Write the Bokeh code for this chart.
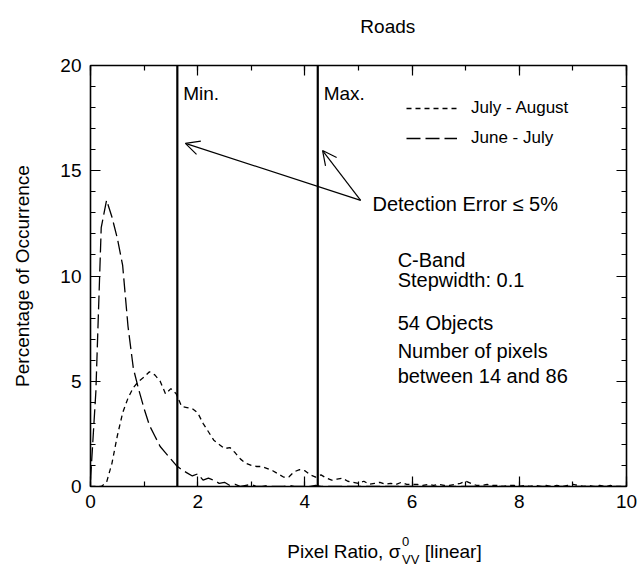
from bokeh.plotting import figure
from bokeh.layouts import column
from bokeh.models import (Span, Label, Arrow, OpenHead, Legend, LegendItem,
                          LinearAxis, SingleIntervalTicker, ColumnDataSource)
from bokeh.core.properties import value
from bokeh.embed import file_html
from bokeh.resources import INLINE

# ---------------- data ----------------
title_text = "Roads"
x_label_main = "Pixel Ratio, \u03c3"
x_label_sup = "0"
x_label_sub = "VV"
x_label_tail = "[linear]"
y_label = "Percentage of Occurrence"

stepwidth = 0.1
pixel_ratio = [round(i * stepwidth, 1) for i in range(101)]

july_august = [
    0.0, 0.0, 0.0, 0.2, 1.1, 2.4, 3.5, 4.2, 4.7, 5.0,      # 0.0 - 0.9
    5.2, 5.45, 5.3, 5.0, 4.4, 4.65, 4.4, 3.8, 3.75, 3.7,   # 1.0 - 1.9
    3.5, 3.0, 2.6, 2.2, 2.0, 1.8, 1.85, 1.6, 1.3, 1.1,     # 2.0 - 2.9
    1.0, 0.95, 0.95, 0.85, 0.75, 0.6, 0.45, 0.45, 0.7, 0.8,  # 3.0 - 3.9
    0.75, 0.55, 0.45, 0.55, 0.4, 0.3, 0.35, 0.4, 0.25, 0.2,  # 4.0 - 4.9
    0.15, 0.25, 0.1, 0.15, 0.2, 0.1, 0.15, 0.1, 0.2, 0.1,  # 5.0 - 5.9
    0.1, 0.1, 0.05, 0.1, 0.05, 0.1, 0.05, 0.05, 0.1, 0.15,  # 6.0 - 6.9
    0.25, 0.15, 0.05, 0.05, 0.1, 0.05, 0.05, 0.0, 0.05, 0.05,  # 7.0 - 7.9
    0.0, 0.05, 0.0, 0.05, 0.0, 0.05, 0.0, 0.05, 0.0, 0.05,  # 8.0 - 8.9
    0.1, 0.05, 0.0, 0.05, 0.0, 0.05, 0.0, 0.05, 0.0, 0.0,  # 9.0 - 9.9
    0.0,                                                   # 10.0
]

june_july = [
    0.3, 4.5, 12.3, 13.6, 12.8, 11.8, 10.5, 7.6, 5.6, 4.6,  # 0.0 - 0.9
    3.7, 2.9, 2.4, 1.9, 1.6, 1.3, 1.0, 0.8, 0.65, 0.5,      # 1.0 - 1.9
    0.6, 0.3, 0.4, 0.3, 0.15, 0.2, 0.05, 0.1, 0.0, 0.05,    # 2.0 - 2.9
    0.1, 0.0, 0.0, 0.05, 0.0, 0.0, 0.0, 0.05, 0.0, 0.0,     # 3.0 - 3.9
    0.0, 0.0, 0.05, 0.0, 0.0, 0.0, 0.0, 0.0, 0.0, 0.0,      # 4.0 - 4.9
    0.0, 0.0, 0.0, 0.0, 0.0, 0.0, 0.0, 0.0, 0.0, 0.0,       # 5.0 - 5.9
    0.0, 0.0, 0.0, 0.0, 0.0, 0.0, 0.0, 0.0, 0.0, 0.0,       # 6.0 - 6.9
    0.0, 0.0, 0.0, 0.0, 0.0, 0.0, 0.0, 0.0, 0.0, 0.0,       # 7.0 - 7.9
    0.0, 0.0, 0.0, 0.0, 0.0, 0.0, 0.0, 0.0, 0.0, 0.0,       # 8.0 - 8.9
    0.0, 0.0, 0.0, 0.0, 0.0, 0.0, 0.0, 0.0, 0.0, 0.0,       # 9.0 - 9.9
    0.0,                                                    # 10.0
]

series_labels = ["July - August", "June - July"]
threshold_values = [1.62, 4.24]          # Min., Max. (detection error <= 5%)
threshold_labels = ["Min.", "Max."]
annotation_text = "Detection Error \u2264 5%"
info_lines = ["C-Band", "Stepwidth: 0.1", "54 Objects",
              "Number of pixels", "between 14 and 86"]

# ---------------- layout constants ----------------
FONT = "Liberation Sans"
W = 640
HEAD_H = 50
MAIN_H = 471
FOOT_H = 45


def blank_fig(h):
    f = figure(width=W, height=h, x_range=(0, W), y_range=(0, h),
               output_backend="svg", toolbar_location=None,
               min_border=0, x_axis_type=None, y_axis_type=None)
    f.outline_line_color = None
    f.xgrid.visible = False
    f.ygrid.visible = False
    f.background_fill_color = "white"
    f.border_fill_color = "white"
    return f


# ---------------- header (title) ----------------
head = blank_fig(HEAD_H)
head.text(x=[355], y=[HEAD_H - 26], text=[title_text], text_align="center",
          text_baseline="middle", text_font=value(FONT),
          text_font_size="19px", text_color="black")

# ---------------- main plot ----------------
p = figure(width=W, height=MAIN_H, x_range=(0, 10), y_range=(0, 20),
           output_backend="svg", toolbar_location=None,
           min_border_left=90, min_border_right=14,
           min_border_top=15, min_border_bottom=35,
           x_axis_type=None, y_axis_type=None)
p.background_fill_color = "white"
p.border_fill_color = "white"
p.outline_line_color = "black"
p.outline_line_width = 1.6
p.xgrid.visible = False
p.ygrid.visible = False


def make_axis(kind, labels):
    ticker = (SingleIntervalTicker(interval=2, num_minor_ticks=2) if kind == "x"
              else SingleIntervalTicker(interval=5, num_minor_ticks=5))
    ax = LinearAxis(ticker=ticker)
    ax.axis_line_color = None
    ax.major_tick_in = 10
    ax.major_tick_out = 0
    ax.minor_tick_in = 5
    ax.minor_tick_out = 0
    ax.major_tick_line_color = "black"
    ax.minor_tick_line_color = "black"
    ax.major_tick_line_width = 1.2
    ax.minor_tick_line_width = 1.2
    ax.major_label_text_font = FONT
    ax.major_label_text_font_size = "19px"
    ax.major_label_text_color = "black"
    if not labels:
        ax.major_label_text_color = None
        ax.major_label_text_alpha = 0
        ax.major_label_standoff = 0
    return ax


xb = make_axis("x", True)
xb.major_label_standoff = 8
p.add_layout(xb, "below")
xt = make_axis("x", False)
p.add_layout(xt, "above")

yl = make_axis("y", True)
yl.major_label_standoff = 9
yl.axis_label = y_label
yl.axis_label_text_font = FONT
yl.axis_label_text_font_size = "19px"
yl.axis_label_text_font_style = "normal"
yl.axis_label_text_color = "black"
yl.axis_label_standoff = 24
p.add_layout(yl, "left")
yr = make_axis("y", False)
p.add_layout(yr, "right")

# curves
src = ColumnDataSource(dict(x=pixel_ratio, ja=july_august, jj=june_july))
r_ja = p.line("x", "ja", source=src, line_color="black", line_width=1.3,
              line_dash="5 4")
r_jj = p.line("x", "jj", source=src, line_color="black", line_width=1.3,
              line_dash="14 5")

# thresholds
for v in threshold_values:
    p.add_layout(Span(location=v, dimension="height", line_color="black",
                      line_width=2.2))

for v, t in zip(threshold_values, threshold_labels):
    p.add_layout(Label(x=v + 0.11, y=18.67, text=t, text_align="left",
                       text_baseline="middle", text_font=FONT,
                       text_font_size="19px", text_color="black"))

# arrows from annotation text to the threshold lines
p.add_layout(Arrow(end=OpenHead(size=14, line_width=1.2, line_color="black"),
                   x_start=5.04, y_start=13.59, x_end=threshold_values[0] + 0.15,
                   y_end=16.3, line_width=1.2, line_color="black"))
p.add_layout(Arrow(end=OpenHead(size=14, line_width=1.2, line_color="black"),
                   x_start=5.04, y_start=13.59, x_end=threshold_values[1] + 0.09,
                   y_end=15.96, line_width=1.2, line_color="black"))
p.add_layout(Label(x=5.26, y=13.44, text=annotation_text, text_align="left",
                   text_baseline="middle", text_font=FONT,
                   text_font_size="20px", text_color="black"))

info_y = [10.74, 9.79, 7.79, 6.46, 5.27]
for t, yy in zip(info_lines, info_y):
    p.add_layout(Label(x=5.73, y=yy, text=t, text_align="left",
                       text_baseline="middle", text_font=FONT,
                       text_font_size="20px", text_color="black"))

# legend
legend = Legend(items=[LegendItem(label=series_labels[0], renderers=[r_ja]),
                       LegendItem(label=series_labels[1], renderers=[r_jj])],
                location=(316, 338), orientation="vertical",
                glyph_width=51, glyph_height=20, label_height=20,
                label_standoff=14, spacing=10, padding=0, margin=0,
                border_line_alpha=0, background_fill_alpha=0,
                label_text_font=FONT, label_text_font_size="17px",
                label_text_color="black")
p.add_layout(legend)

# ---------------- footer (x axis label) ----------------
foot = blank_fig(FOOT_H)
foot.text(x=[370], y=[FOOT_H - 30], text=[x_label_main], text_align="right",
          text_baseline="middle", text_font=value(FONT),
          text_font_size="19px", text_color="black")
foot.text(x=[372], y=[FOOT_H - 20], text=[x_label_sup], text_align="left",
          text_baseline="middle", text_font=value(FONT),
          text_font_size="13px", text_color="black")
foot.text(x=[372], y=[FOOT_H - 38], text=[x_label_sub], text_align="left",
          text_baseline="middle", text_font=value(FONT),
          text_font_size="13px", text_color="black")
foot.text(x=[399], y=[FOOT_H - 30], text=[x_label_tail], text_align="left",
          text_baseline="middle", text_font=value(FONT),
          text_font_size="19px", text_color="black")

layout = column(head, p, foot, spacing=0)
open("out.html", "w").write(file_html(layout, INLINE))
